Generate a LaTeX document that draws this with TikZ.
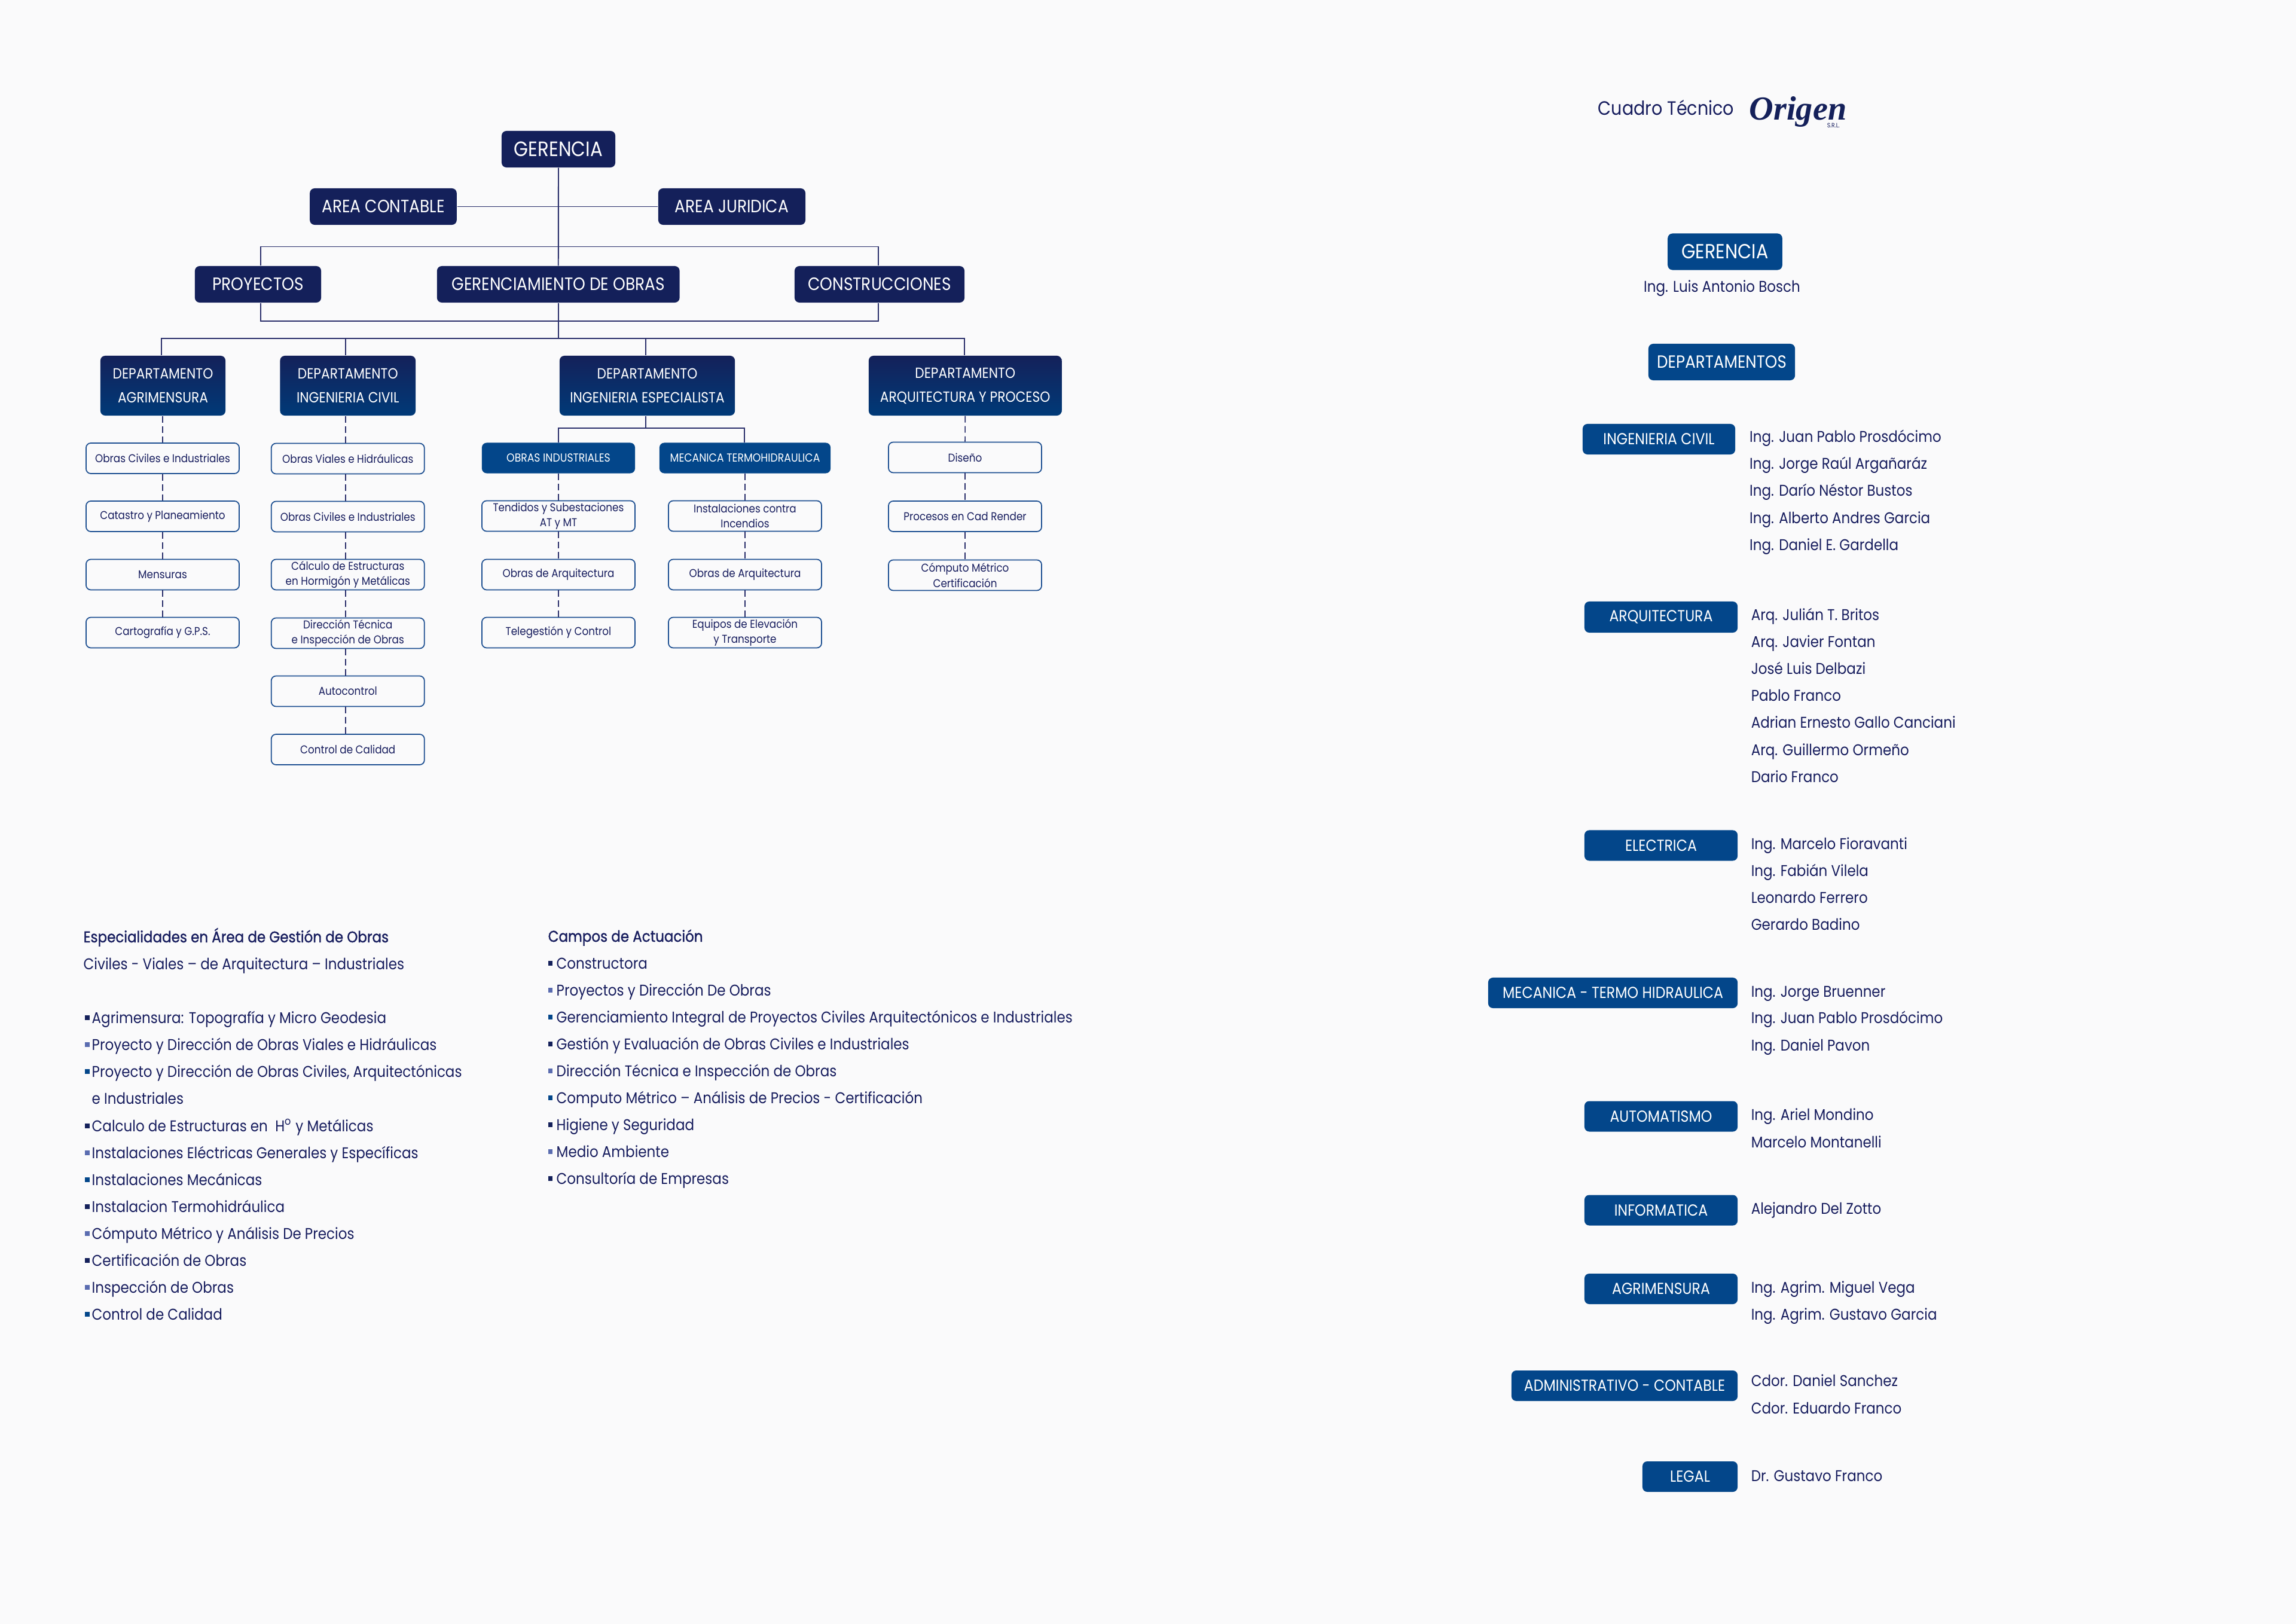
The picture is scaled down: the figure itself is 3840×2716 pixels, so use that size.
\documentclass[tikz,border=0pt]{standalone}
\usepackage{fontspec}
\setmainfont{Poppins}[FakeStretch=0.885]
\newfontfamily\logofont{Liberation Serif}
\usetikzlibrary{arrows.meta}
\definecolor{pagebg}{HTML}{FAFAFB}
\definecolor{navy}{HTML}{14205A}
\definecolor{depttop}{HTML}{14215A}
\definecolor{deptbot}{HTML}{003A78}
\definecolor{azul}{HTML}{03468A}
\definecolor{inktext}{HTML}{171D5E}
\definecolor{lavanda}{HTML}{5A6CB0}
\definecolor{wire}{HTML}{2A2F6B}
\definecolor{rim}{HTML}{1D4F91}
\begin{document}
\begin{tikzpicture}[x=0.01cm,y=-0.01cm,line cap=butt,
  darkbox/.style={fill=navy,rounded corners=0.08cm,inner sep=0,text=white,font=\fontsize{8.5}{10}\selectfont},
  deptbox/.style={top color=depttop,bottom color=deptbot,rounded corners=0.08cm,inner sep=0,text=white,align=center,font=\fontsize{7}{11.4}\selectfont},
  bluebox/.style={fill=azul,rounded corners=0.08cm,inner sep=0,text=white,font=\fontsize{7.6}{9}\selectfont},
  headbox/.style={fill=azul,rounded corners=0.08cm,inner sep=0,text=white,minimum height=0.51cm,font=\fontsize{5.55}{6}\selectfont},
  workbox/.style={draw=rim,line width=0.5pt,fill=pagebg,rounded corners=0.08cm,inner sep=0,text=inktext,align=center,minimum width=2.56cm,minimum height=0.51cm,font=\fontsize{5.4}{7.2}\selectfont},
  conn/.style={draw=wire,line width=0.55pt},
  dashconn/.style={draw=wire,line width=0.45pt,dash pattern=on 0.11cm off 0.06cm},
  person/.style={anchor=base west,inner sep=0,text=inktext,font=\fontsize{7.4}{9}\selectfont},
  square/.style={inner sep=0,minimum size=0.075cm}]
\useasboundingbox (0,0) rectangle (3840,2716);
\fill[pagebg] (0,0) rectangle (3840,2716);

\node[darkbox,minimum width=1.9cm,minimum height=0.61cm,font=\fontsize{9.9}{10}\selectfont] (gerencia) at (934,249.5) {GERENCIA};
\node[darkbox,minimum width=2.455cm,minimum height=0.61cm] (contable) at (641,345.5) {AREA CONTABLE};
\node[darkbox,minimum width=2.46cm,minimum height=0.61cm] (juridica) at (1224,345.5) {AREA JURIDICA};
\node[darkbox,minimum width=2.11cm,minimum height=0.61cm] (proyectos) at (431.5,475.5) {PROYECTOS};
\node[darkbox,minimum width=4.055cm,minimum height=0.61cm] (obras) at (933.75,475.5) {GERENCIAMIENTO DE OBRAS};
\node[darkbox,minimum width=2.84cm,minimum height=0.61cm] (constr) at (1471,475.5) {CONSTRUCCIONES};

\node[deptbox,minimum width=2.09cm,minimum height=1cm] (dagri) at (272.5,645) {DEPARTAMENTO\\AGRIMENSURA};
\node[deptbox,minimum width=2.265cm,minimum height=1cm] (dcivil) at (581.75,645) {DEPARTAMENTO\\INGENIERIA CIVIL};
\node[deptbox,minimum width=2.93cm,minimum height=1cm] (despec) at (1082.5,645) {DEPARTAMENTO\\INGENIERIA ESPECIALISTA};
\node[deptbox,minimum width=3.225cm,minimum height=1cm] (darq) at (1614.25,645) {DEPARTAMENTO\\ARQUITECTURA Y PROCESO};

\node[headbox,minimum width=2.56cm] (hind) at (934,766) {OBRAS INDUSTRIALES};
\node[headbox,minimum width=2.86cm] (hmec) at (1246,766) {MECANICA TERMOHIDRAULICA};

\node[workbox] (a1) at (272,766.5) {Obras Civiles e Industriales};
\node[workbox] (a2) at (272,863.5) {Catastro y Planeamiento};
\node[workbox] (a3) at (272,961) {Mensuras};
\node[workbox] (a4) at (272,1058) {Cartografía y G.P.S.};

\node[workbox] (c1) at (581.75,767) {Obras Viales e Hidráulicas};
\node[workbox] (c2) at (581.75,864) {Obras Civiles e Industriales};
\node[workbox] (c3) at (581.75,961) {Cálculo de Estructuras\\en Hormigón y Metálicas};
\node[workbox] (c4) at (581.75,1059) {Dirección Técnica\\e Inspección de Obras};
\node[workbox] (c5) at (581.75,1156) {Autocontrol};
\node[workbox] (c6) at (581.75,1253.5) {Control de Calidad};

\node[workbox] (i1) at (934,863) {Tendidos y Subestaciones\\AT y MT};
\node[workbox] (i2) at (934,961) {Obras de Arquitectura};
\node[workbox] (i3) at (934,1058) {Telegestión y Control};

\node[workbox] (m1) at (1246,863) {Instalaciones contra\\Incendios};
\node[workbox] (m2) at (1246,961) {Obras de Arquitectura};
\node[workbox] (m3) at (1246,1058) {Equipos de Elevación\\y Transporte};

\node[workbox] (q1) at (1614,765) {Diseño};
\node[workbox] (q2) at (1614,863.5) {Procesos en Cad Render};
\node[workbox] (q3) at (1614,962) {Cómputo Métrico\\Certificación};

\coordinate (busa) at (436,412.5);
\coordinate (busb) at (1469,412.5);
\coordinate (busc) at (436,537);
\coordinate (busd) at (1469,537);
\coordinate (buse) at (270,566);
\coordinate (busf) at (1613,566);
\coordinate (busg) at (934,716);
\coordinate (bush) at (1245,716);

\draw[conn] (gerencia.south) -- (obras.north);
\draw[conn] (contable.east) -- (juridica.west);
\draw[conn] (proyectos.north -| busa) -- (busa) -- (busb) -- (constr.north -| busb);
\draw[conn] (proyectos.south -| busc) -- (busc) -- (busd) -- (constr.south -| busd);
\draw[conn] (obras.south) -- (obras.south |- buse);
\draw[conn] (dagri.north -| buse) -- (buse) -- (busf) -- (darq.north -| busf);
\draw[conn] (dcivil.north -| 578,0) -- (578,566);
\draw[conn] (despec.north -| 1080,0) -- (1080,566);
\draw[conn] (despec.south -| 1080,0) -- (1080,716);
\draw[conn] (hind.north -| busg) -- (busg) -- (bush) -- (hmec.north -| bush);

\draw[dashconn] (dagri.south -| a1.north) -- (a1.north);
\draw[dashconn] (a1) -- (a2);
\draw[dashconn] (a2) -- (a3);
\draw[dashconn] (a3) -- (a4);
\draw[dashconn] (dcivil.south -| 578,0) -- (578,741);
\foreach \up/\dn in {c1/c2,c2/c3,c3/c4,c4/c5,c5/c6}
  \draw[dashconn] (\up.south -| 578,0) -- (\dn.north -| 578,0);
\draw[dashconn] (hind) -- (i1);
\draw[dashconn] (i1) -- (i2);
\draw[dashconn] (i2) -- (i3);
\draw[dashconn] (hmec) -- (m1);
\draw[dashconn] (m1) -- (m2);
\draw[dashconn] (m2) -- (m3);
\draw[dashconn] (darq.south) -- (q1.north);
\draw[dashconn] (q1) -- (q2);
\draw[dashconn] (q2) -- (q3);

\foreach \i/\y/\col/\txt in {1/1711/navy/Agrimensura: Topografía y Micro Geodesia,
  2/1756/lavanda/Proyecto y Dirección de Obras Viales e Hidráulicas,
  3/1801/azul/{Proyecto y Dirección de Obras Civiles, Arquitectónicas},
  4/1892/navy/Calculo de Estructuras en\ \ H\textsuperscript{o} y Metálicas,
  5/1937/lavanda/Instalaciones Eléctricas Generales y Específicas,
  6/1982/azul/Instalaciones Mecánicas,
  7/2027/navy/Instalacion Termohidráulica,
  8/2072/lavanda/Cómputo Métrico y Análisis De Precios,
  9/2117/navy/Certificación de Obras,
  10/2162/lavanda/Inspección de Obras,
  11/2207/azul/Control de Calidad} {
  \node[person] (esp\i) at (153,\y) {\txt};
  \node[square,fill=\col] (bes\i) at (146,\y-9) {};
}
\node[person,font=\fontsize{7.4}{9}\selectfont\addfontfeature{FakeBold=1.2}] (esptit) at (139,1576) {Especialidades en Área de Gestión de Obras};
\node[person] (espsub) at (139,1621) {Civiles - Viales – de Arquitectura – Industriales};
\node[person] (espcont) at (153,1846) {e Industriales};

\node[person,font=\fontsize{7.4}{9}\selectfont\addfontfeature{FakeBold=1.2}] (camtit) at (916,1575) {Campos de Actuación};
\foreach \i/\y/\col/\txt in {1/1620/navy/Constructora,
  2/1665/lavanda/Proyectos y Dirección De Obras,
  3/1710/azul/Gerenciamiento Integral de Proyectos Civiles Arquitectónicos e Industriales,
  4/1755/navy/Gestión y Evaluación de Obras Civiles e Industriales,
  5/1800/lavanda/Dirección Técnica e Inspección de Obras,
  6/1845/azul/Computo Métrico – Análisis de Precios - Certificación,
  7/1890/navy/Higiene y Seguridad,
  8/1935/lavanda/Medio Ambiente,
  9/1980/navy/Consultoría de Empresas} {
  \node[person] (cam\i) at (930,\y) {\txt};
  \node[square,fill=\col] (bca\i) at (920.5,\y-9) {};
}

\node[person,font=\fontsize{9.2}{10}\selectfont] (cuadro) at (2672,193) {Cuadro Técnico};
\node[person,text=navy,font=\logofont\bfseries\itshape\fontsize{16}{18}\selectfont] (origen) at (2925,201) {Origen};
\node[person,font=\fontsize{3}{3.5}\selectfont] (srl) at (3055,214) {S.R.L.};

\node[bluebox,minimum width=1.915cm,minimum height=0.61cm,font=\fontsize{9.7}{10}\selectfont] (bger) at (2885,421) {GERENCIA};
\node[person,anchor=base] (bosch) at (2880,489) {Ing. Luis Antonio Bosch};
\node[bluebox,minimum width=2.45cm,minimum height=0.61cm,font=\fontsize{8.4}{10}\selectfont] (bdep) at (2879.5,605.5) {DEPARTAMENTOS};

\node[bluebox,minimum width=2.55cm,minimum height=0.51cm] (bciv) at (2774.5,734.5) {INGENIERIA CIVIL};
\node[bluebox,minimum width=2.56cm,minimum height=0.52cm] (barq) at (2778,1032) {ARQUITECTURA};
\node[bluebox,minimum width=2.56cm,minimum height=0.51cm] (bele) at (2778,1414) {ELECTRICA};
\node[bluebox,minimum width=4.17cm,minimum height=0.51cm] (bmec) at (2697.5,1660.5) {MECANICA - TERMO HIDRAULICA};
\node[bluebox,minimum width=2.56cm,minimum height=0.51cm] (baut) at (2778,1867) {AUTOMATISMO};
\node[bluebox,minimum width=2.56cm,minimum height=0.51cm] (binf) at (2778,2024) {INFORMATICA};
\node[bluebox,minimum width=2.56cm,minimum height=0.51cm] (bagr) at (2778,2155.5) {AGRIMENSURA};
\node[bluebox,minimum width=3.78cm,minimum height=0.51cm] (badm) at (2717,2317.5) {ADMINISTRATIVO - CONTABLE};
\node[bluebox,minimum width=1.59cm,minimum height=0.51cm] (bleg) at (2826.5,2469.5) {LEGAL};

\foreach \i/\y/\txt in {1/740/Ing. Juan Pablo Prosdócimo,2/785/Ing. Jorge Raúl Argañaráz,
  3/830/Ing. Darío Néstor Bustos,4/875.5/Ing. Alberto Andres Garcia,5/920.5/Ing. Daniel E. Gardella}
  \node[person] (pc\i) at (2925.5,\y) {\txt};
\foreach \i/\y/\txt in {1/1037/Arq. Julián T. Britos,2/1082/Arq. Javier Fontan,3/1127/José Luis Delbazi,
  4/1172/Pablo Franco,5/1217/Adrian Ernesto Gallo Canciani,6/1263/Arq. Guillermo Ormeño,7/1308/Dario Franco,
  8/1420/Ing. Marcelo Fioravanti,9/1465/Ing. Fabián Vilela,10/1510/Leonardo Ferrero,11/1555/Gerardo Badino,
  12/1667/Ing. Jorge Bruenner,13/1711/Ing. Juan Pablo Prosdócimo,14/1757/Ing. Daniel Pavon,
  15/1873.5/Ing. Ariel Mondino,16/1919/Marcelo Montanelli,17/2030/Alejandro Del Zotto,
  18/2162.5/Ing. Agrim. Miguel Vega,19/2207/Ing. Agrim. Gustavo Garcia,
  20/2318/Cdor. Daniel Sanchez,21/2364/Cdor. Eduardo Franco,22/2477/Dr. Gustavo Franco}
  \node[person] (pa\i) at (2928,\y) {\txt};
\end{tikzpicture}
\end{document}
